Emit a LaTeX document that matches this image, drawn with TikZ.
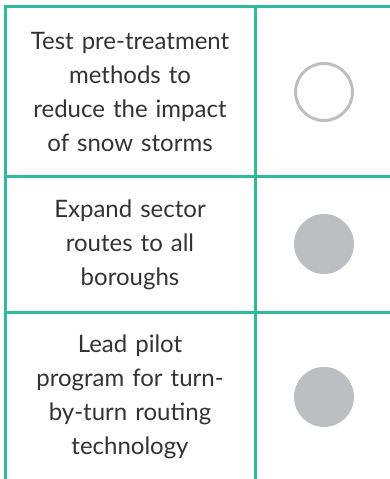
\documentclass[tikz,border=0pt]{standalone}
\usepackage{fontspec}
\setmainfont{Lato}
\usetikzlibrary{positioning, calc}
\definecolor{gridteal}{HTML}{2DBB9B}
\definecolor{dotgrey}{HTML}{BDBEC1}
\definecolor{textgrey}{HTML}{333333}
\tikzstyle{taskbox}=[text width=240pt, align=center, text=textgrey, font=\fontsize{24}{34}\selectfont]
\tikzstyle{opendot}=[circle, draw=dotgrey, line width=3pt, minimum size=57pt]
\tikzstyle{fulldot}=[circle, fill=dotgrey, minimum size=60pt]
\tikzstyle{gridline}=[gridteal, line width=3pt]

\begin{document}
\begin{tikzpicture}[x=1pt, y=-1pt]
        \useasboundingbox (0,0) rectangle (390,479);
        % grid
        \draw[gridline] (5,479) -- (5,6) -- (390,6);
        \draw[gridline] (255,6) -- (255,479);
        \draw[gridline] (5,176) -- (390,176);
        \draw[gridline] (5,312) -- (390,312);

        % tasks
        \node[taskbox] (t1) at (130,92) {Test pre-treatment\\methods to\\reduce the impact\\of snow storms};
        \node[taskbox] (t2) at (130,245) {Expand sector\\routes to all\\boroughs};
        \node[taskbox] (t3) at (130,397) {Lead pilot\\program for turn-\\by-turn routing\\technology};

        % status
        \node[opendot] (s1) at (324,92) {};
        \node[fulldot] (s2) at (324,244) {};
        \node[fulldot] (s3) at (324,397) {};
\end{tikzpicture}
\end{document}
